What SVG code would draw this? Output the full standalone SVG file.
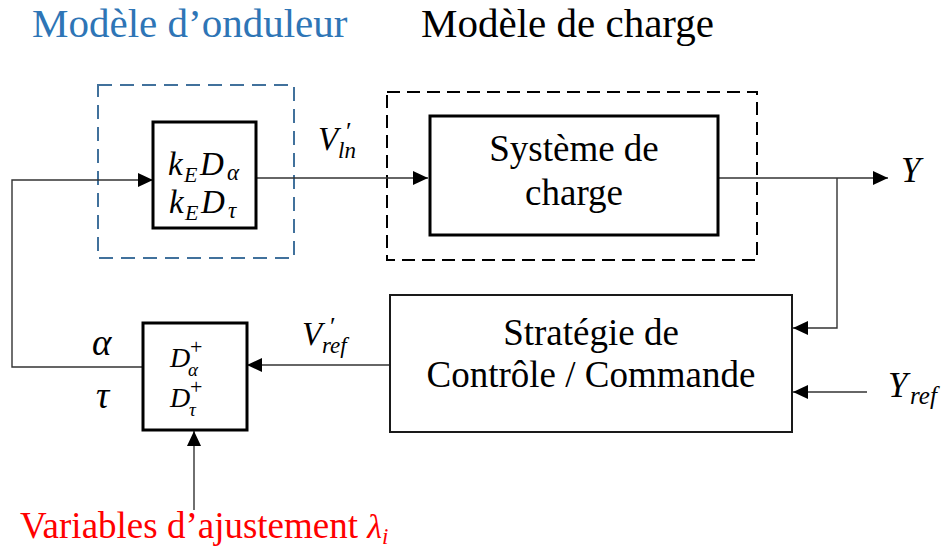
<svg xmlns="http://www.w3.org/2000/svg" width="949" height="551" viewBox="0 0 949 551">
<defs>
<style>
.box{fill:#fff;stroke:#000;stroke-width:3}
.box2{fill:#fff;stroke:#1a1a1a;stroke-width:2}
.dash{fill:none;stroke:#000;stroke-width:2;stroke-dasharray:13 7}
.dashb{fill:none;stroke:#41719C;stroke-width:2;stroke-dasharray:14 8}
.c{fill:none;stroke:#333;stroke-width:1.4}
.s{font-family:'Liberation Serif','Times New Roman',serif}
</style>
<marker id="ah" markerUnits="userSpaceOnUse" markerWidth="15" markerHeight="14" refX="15" refY="7" orient="auto">
<path d="M0,0 L15,7 L0,14 z" fill="#000"/>
</marker>
</defs>
<rect width="949" height="551" fill="#fff"/>

<g class="s" fill="#000">
<text x="32" y="37" font-size="41" fill="#2E75B6">Modèle d’onduleur</text>
<text x="421" y="37" font-size="41">Modèle de charge</text>

<g id="inverter-model">
<rect class="dashb" x="98" y="85" width="196" height="173"/>
</g>
<g id="load-model">
<rect class="dash" x="387" y="92" width="370" height="168"/>
</g>

<g id="connectors">
<path class="c" d="M143,367 H12 V180 H153" marker-end="url(#ah)"/>
<path class="c" d="M257,178 H428" marker-end="url(#ah)"/>
<path class="c" d="M718,178 H888" marker-end="url(#ah)"/>
<path class="c" d="M837,178 V328 H793" marker-end="url(#ah)"/>
<path class="c" d="M867,392 H793" marker-end="url(#ah)"/>
<path class="c" d="M390,365 H247" marker-end="url(#ah)"/>
<path class="c" d="M194,510 V431" marker-end="url(#ah)"/>
</g>

<g id="inverter">
<rect class="box" x="153" y="122" width="103" height="106"/>
<text font-style="italic" font-size="33"><tspan x="168" y="175">k</tspan><tspan x="184" y="182" font-size="22">E</tspan><tspan x="200" y="175">D</tspan><tspan x="227" y="180" font-size="23">α</tspan></text>
<text font-style="italic" font-size="33"><tspan x="169" y="213">k</tspan><tspan x="185" y="220" font-size="22">E</tspan><tspan x="201" y="213">D</tspan><tspan x="228" y="218" font-size="23">τ</tspan></text>
</g>

<g id="load">
<rect class="box" x="430" y="116" width="288" height="119"/>
<text x="574" y="161" font-size="37" text-anchor="middle">Système de</text>
<text x="574" y="205" font-size="37" text-anchor="middle">charge</text>
</g>

<g id="strategy">
<rect class="box2" x="390" y="295" width="402" height="137"/>
<text x="591" y="345" font-size="37" text-anchor="middle">Stratégie de</text>
<text x="591" y="387" font-size="37" text-anchor="middle">Contrôle / Commande</text>
</g>

<g id="pseudo-inverse">
<rect class="box" x="143" y="323" width="104" height="107"/>
<text font-style="italic" font-size="28"><tspan x="170" y="367">D</tspan><tspan x="190" y="354" font-size="22" font-style="normal">+</tspan><tspan x="188" y="376" font-size="19">α</tspan></text>
<text font-style="italic" font-size="28"><tspan x="170" y="407">D</tspan><tspan x="190" y="394" font-size="22" font-style="normal">+</tspan><tspan x="189" y="416" font-size="19">τ</tspan></text>
</g>

<g id="labels">
<text font-style="italic" font-size="33"><tspan x="318" y="150">V</tspan><tspan x="346" y="140" font-size="26" font-style="normal">′</tspan><tspan x="338" y="158" font-size="23">ln</tspan></text>
<text font-style="italic" font-size="33"><tspan x="302" y="345">V</tspan><tspan x="330" y="335" font-size="26" font-style="normal">′</tspan><tspan x="322" y="353" font-size="23">ref</tspan></text>
<text font-style="italic" x="92" y="355" font-size="37">α</text>
<text font-style="italic" x="96" y="408" font-size="37">τ</text>
<text font-style="italic" x="901" y="182" font-size="35">Y</text>
<text font-style="italic" font-size="35"><tspan x="888" y="397">Y</tspan><tspan x="910" y="404" font-size="25">ref</tspan></text>
<text x="20" y="538" font-size="37" fill="#FF0000">Variables d’ajustement <tspan font-style="italic" font-size="34">λ</tspan><tspan font-style="italic" font-size="23" dy="6">i</tspan></text>
</g>
</g>
</svg>
